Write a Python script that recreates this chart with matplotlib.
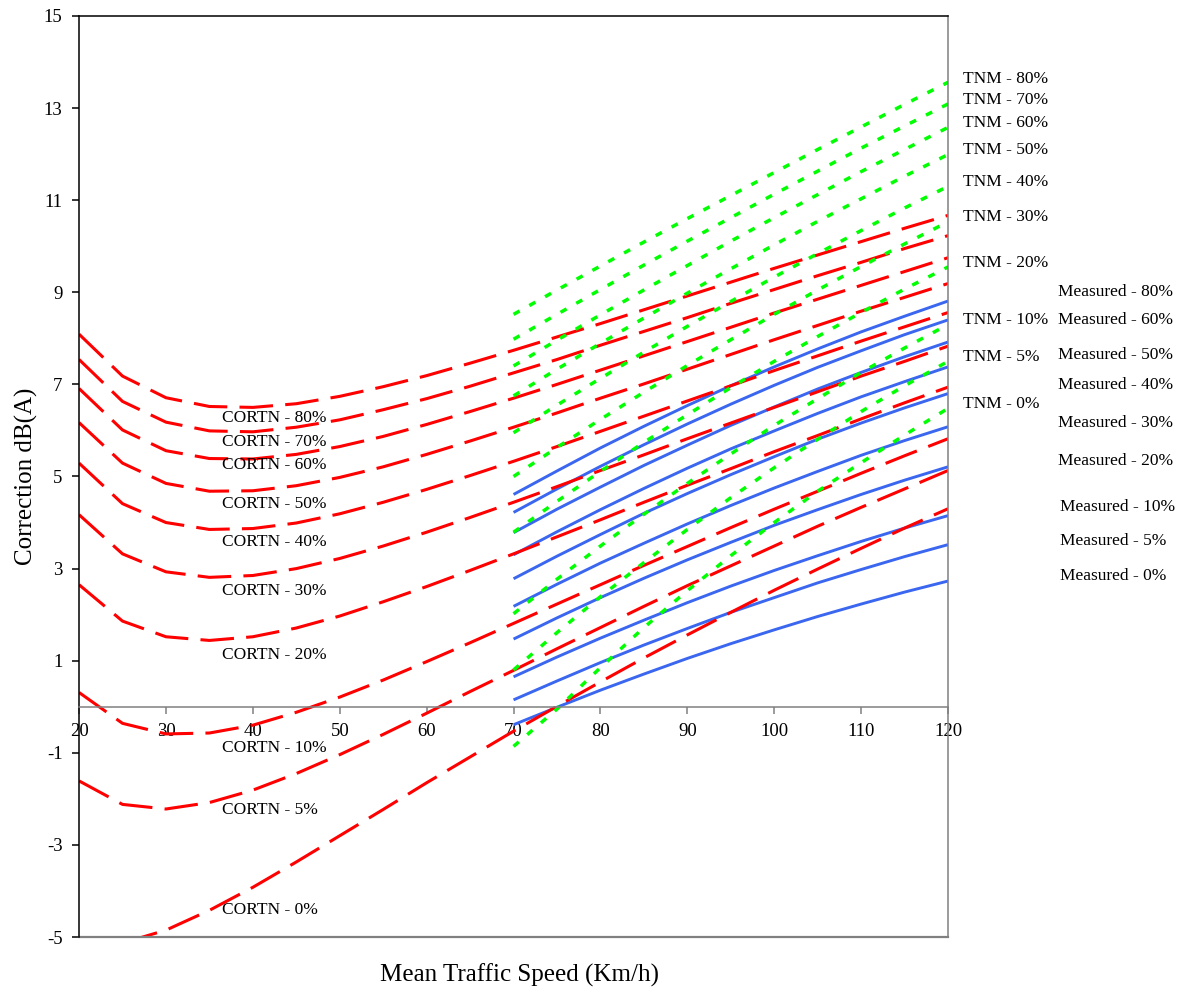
import matplotlib.pyplot as plt

# speeds (km/h)
speed_cortn = [20, 25, 30, 35, 40, 45, 50, 55, 60, 65, 70, 75, 80, 85, 90, 95, 100, 105, 110, 115, 120]
speed_obs = [70, 75, 80, 85, 90, 95, 100, 105, 110, 115, 120]

# CORTN corrections, dB(A)
cortn_0 = [-5.13, -5.13, -4.85, -4.42, -3.92, -3.37, -2.80, -2.23, -1.65, -1.09, -0.53, 0.01, 0.54, 1.06, 1.56, 2.05, 2.53, 2.99, 3.44, 3.88, 4.30]
cortn_5 = [-1.61, -2.12, -2.22, -2.08, -1.81, -1.45, -1.04, -0.60, -0.14, 0.33, 0.79, 1.26, 1.72, 2.18, 2.63, 3.06, 3.49, 3.92, 4.33, 4.73, 5.13]
cortn_10 = [0.31, -0.36, -0.59, -0.57, -0.40, -0.12, 0.21, 0.58, 0.98, 1.39, 1.81, 2.23, 2.65, 3.07, 3.48, 3.89, 4.29, 4.68, 5.07, 5.45, 5.82]
cortn_20 = [2.65, 1.86, 1.52, 1.44, 1.52, 1.71, 1.97, 2.28, 2.61, 2.96, 3.32, 3.69, 4.06, 4.44, 4.81, 5.17, 5.54, 5.89, 6.25, 6.60, 6.94]
cortn_30 = [4.17, 3.32, 2.93, 2.81, 2.85, 3.00, 3.22, 3.49, 3.79, 4.11, 4.44, 4.78, 5.13, 5.47, 5.82, 6.16, 6.50, 6.84, 7.18, 7.50, 7.83]
cortn_40 = [5.29, 4.41, 4.00, 3.85, 3.87, 3.99, 4.19, 4.44, 4.72, 5.02, 5.33, 5.65, 5.98, 6.31, 6.64, 6.97, 7.30, 7.62, 7.94, 8.25, 8.56]
cortn_50 = [6.17, 5.29, 4.85, 4.68, 4.69, 4.80, 4.98, 5.21, 5.48, 5.77, 6.07, 6.38, 6.70, 7.01, 7.33, 7.65, 7.97, 8.28, 8.59, 8.89, 9.19]
cortn_60 = [6.91, 6.01, 5.56, 5.39, 5.38, 5.48, 5.65, 5.87, 6.13, 6.41, 6.70, 7.00, 7.31, 7.62, 7.93, 8.24, 8.55, 8.85, 9.15, 9.45, 9.75]
cortn_70 = [7.54, 6.63, 6.18, 5.99, 5.97, 6.07, 6.23, 6.45, 6.69, 6.96, 7.25, 7.54, 7.85, 8.15, 8.45, 8.76, 9.06, 9.36, 9.65, 9.95, 10.23]
cortn_80 = [8.09, 7.18, 6.71, 6.52, 6.50, 6.58, 6.74, 6.95, 7.19, 7.46, 7.74, 8.03, 8.32, 8.62, 8.92, 9.22, 9.52, 9.81, 10.10, 10.39, 10.67]

# TNM
tnm_0 = [-0.86, -0.05, 0.85, 1.72, 2.52, 3.28, 4.00, 4.68, 5.30, 5.90, 6.48]
tnm_5 = [0.80, 1.61, 2.39, 3.13, 3.85, 4.54, 5.19, 5.81, 6.41, 6.97, 7.50]
tnm_10 = [2.02, 2.77, 3.49, 4.18, 4.85, 5.49, 6.11, 6.69, 7.26, 7.79, 8.30]
tnm_20 = [3.79, 4.46, 5.11, 5.74, 6.34, 6.93, 7.50, 8.04, 8.56, 9.07, 9.55]
tnm_30 = [5.00, 5.63, 6.24, 6.83, 7.41, 7.97, 8.52, 9.05, 9.56, 10.05, 10.53]
tnm_40 = [5.95, 6.55, 7.13, 7.70, 8.26, 8.80, 9.33, 9.84, 10.34, 10.83, 11.30]
tnm_50 = [6.75, 7.33, 7.89, 8.44, 8.98, 9.51, 10.03, 10.54, 11.03, 11.52, 11.99]
tnm_60 = [7.40, 7.96, 8.51, 9.05, 9.58, 10.11, 10.62, 11.12, 11.62, 12.10, 12.58]
tnm_70 = [7.98, 8.52, 9.06, 9.59, 10.11, 10.62, 11.13, 11.63, 12.13, 12.61, 13.09]
tnm_80 = [8.52, 9.05, 9.57, 10.09, 10.60, 11.10, 11.60, 12.10, 12.59, 13.08, 13.56]

# Measured
meas_0 = [-0.39, -0.01, 0.36, 0.71, 1.05, 1.37, 1.67, 1.96, 2.23, 2.49, 2.73]
meas_5 = [0.15, 0.56, 0.96, 1.34, 1.70, 2.05, 2.37, 2.69, 2.98, 3.26, 3.52]
meas_10 = [0.65, 1.08, 1.49, 1.88, 2.26, 2.62, 2.96, 3.28, 3.59, 3.88, 4.15]
meas_20 = [1.47, 1.93, 2.37, 2.79, 3.19, 3.57, 3.94, 4.28, 4.61, 4.92, 5.21]
meas_30 = [2.18, 2.66, 3.12, 3.55, 3.97, 4.37, 4.75, 5.11, 5.46, 5.78, 6.08]
meas_40 = [2.78, 3.27, 3.74, 4.20, 4.63, 5.04, 5.43, 5.81, 6.16, 6.49, 6.80]
meas_50 = [3.30, 3.80, 4.28, 4.74, 5.18, 5.60, 5.99, 6.37, 6.73, 7.06, 7.38]
meas_60 = [3.78, 4.29, 4.77, 5.24, 5.68, 6.11, 6.51, 6.90, 7.26, 7.60, 7.92]
meas_70 = [4.22, 4.73, 5.22, 5.69, 6.14, 6.57, 6.98, 7.37, 7.73, 8.08, 8.40]
meas_80 = [4.61, 5.12, 5.62, 6.09, 6.54, 6.97, 7.38, 7.77, 8.14, 8.48, 8.81]

cortn = [cortn_80, cortn_70, cortn_60, cortn_50, cortn_40, cortn_30, cortn_20, cortn_10, cortn_5, cortn_0]
tnm = [tnm_80, tnm_70, tnm_60, tnm_50, tnm_40, tnm_30, tnm_20, tnm_10, tnm_5, tnm_0]
meas = [meas_80, meas_70, meas_60, meas_50, meas_40, meas_30, meas_20, meas_10, meas_5, meas_0]

cortn_labels = ["CORTN - 80%", "CORTN - 70%", "CORTN - 60%", "CORTN - 50%", "CORTN - 40%",
                "CORTN - 30%", "CORTN - 20%", "CORTN - 10%", "CORTN - 5%", "CORTN - 0%"]
tnm_labels = ["TNM - 80%", "TNM - 70%", "TNM - 60%", "TNM - 50%", "TNM - 40%",
              "TNM - 30%", "TNM - 20%", "TNM - 10%", "TNM - 5%", "TNM - 0%"]
meas_labels = ["Measured - 80%", "Measured - 60%", "Measured - 50%", "Measured - 40%", "Measured - 30%",
               "Measured - 20%", "Measured - 10%", "Measured - 5%", "Measured - 0%"]

# label placement (data coords)
cortn_lab_y = [6.28, 5.74, 5.24, 4.41, 3.57, 2.52, 1.13, -0.89, -2.24, -4.41]
tnm_lab_y = [13.63, 13.17, 12.67, 12.09, 11.39, 10.63, 9.63, 8.39, 7.59, 6.57]
meas_lab_y = [9.0, 8.39, 7.63, 6.98, 6.17, 5.33, 4.33, 3.59, 2.83]
meas_lab_x = [132.7, 132.7, 132.7, 132.7, 132.7, 132.7, 132.9, 132.9, 132.9]

plt.rcParams['font.family'] = ['Liberation Serif', 'DejaVu Serif']
plt.rcParams['axes.unicode_minus'] = False

fig = plt.figure(figsize=(11.87, 9.96), dpi=100)
ax = fig.add_axes([0.0666, 0.0592, 0.7321, 0.9248])

for y in meas:
    ax.plot(speed_obs, y, color='#3A66F0', lw=2.1, solid_capstyle='butt')
for y in cortn:
    ax.plot(speed_cortn, y, color='#FF0000', lw=2.2, dashes=(11, 4))
for y in tnm:
    ax.plot(speed_obs, y, color='#00FF00', lw=2.5, dashes=(2.0, 3.2))

ax.set_xlim(20, 120)
ax.set_ylim(-5, 15)
ax.set_yticks(range(-5, 16, 2))
ax.set_xticks(range(20, 121, 10))

ax.spines['bottom'].set_position(('data', 0))
ax.spines['bottom'].set_color('#808080')
ax.spines['right'].set_color('#808080')
ax.spines['left'].set_color('black')
ax.spines['top'].set_color('black')
for s in ax.spines.values():
    s.set_linewidth(1.1)
ax.axhline(-5, color='#808080', lw=1.6, clip_on=False)

ax.tick_params(axis='y', direction='out', length=5, width=1.1, labelsize=13.5, pad=7)
ax.tick_params(axis='x', direction='out', length=5, width=1.1, colors='#808080',
               labelcolor='black', labelsize=13.5, pad=7)

for lab, ly in zip(cortn_labels, cortn_lab_y):
    ax.text(36.5, ly, lab, fontsize=12.5, va='center', ha='left')
for lab, ly in zip(tnm_labels, tnm_lab_y):
    ax.text(121.7, ly, lab, fontsize=12.5, va='center', ha='left', clip_on=False)
for lab, lx, ly in zip(meas_labels, meas_lab_x, meas_lab_y):
    ax.text(lx, ly, lab, fontsize=12.5, va='center', ha='left', clip_on=False)

ax.set_ylabel("Correction dB(A)", fontsize=18, labelpad=4)
fig.text(0.438, 0.021, "Mean Traffic Speed (Km/h)", fontsize=18, ha='center', va='center')

fig.savefig("out.png", dpi=100)
